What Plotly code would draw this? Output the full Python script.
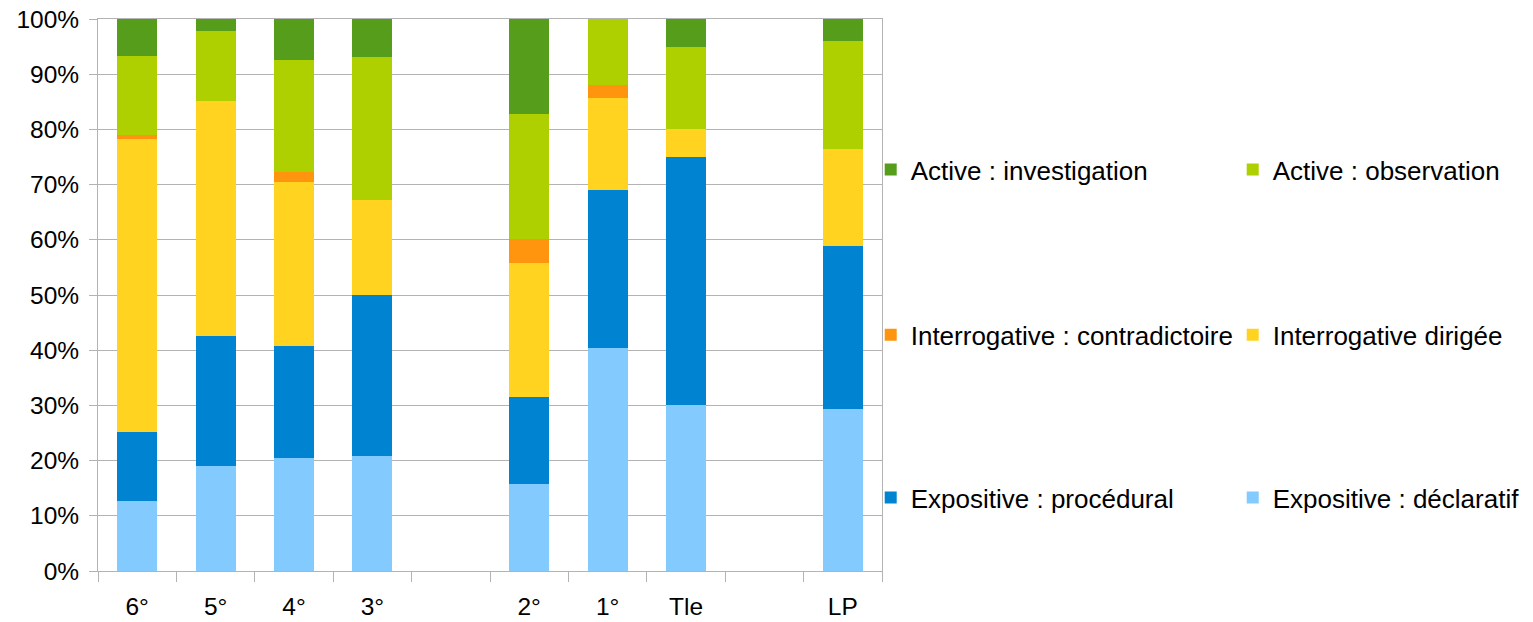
import plotly.graph_objects as go

categories = ["6°", "5°", "4°", "3°", " ", "2°", "1°", "Tle", "  ", "LP"]

expo_declaratif = [12.7, 19.0, 20.5, 20.8, None, 15.8, 40.4, 30.1, None, 29.3]
expo_procedural = [12.5, 23.6, 20.3, 29.2, None, 15.7, 28.6, 44.9, None, 29.6]
inter_dirigee = [53.1, 42.5, 29.7, 17.2, None, 24.3, 16.7, 5.1, None, 17.5]
inter_contradictoire = [0.7, 0.0, 1.8, 0.0, None, 4.3, 2.3, 0.0, None, 0.0]
active_observation = [14.3, 12.7, 20.3, 25.9, None, 22.7, 12.0, 14.8, None, 19.6]
active_investigation = [6.7, 2.2, 7.4, 6.9, None, 17.2, 0.0, 5.1, None, 4.0]

series = [
    ("Expositive : déclaratif", expo_declaratif, "#83caff", "legend3"),
    ("Expositive : procédural", expo_procedural, "#0084d1", "legend3"),
    ("Interrogative dirigée", inter_dirigee, "#ffd320", "legend2"),
    ("Interrogative : contradictoire", inter_contradictoire, "#ff950e", "legend2"),
    ("Active : observation", active_observation, "#aecf00", "legend"),
    ("Active : investigation", active_investigation, "#579d1c", "legend"),
]

fig = go.Figure()
for name, vals, color, lg in series:
    fig.add_trace(go.Bar(
        x=categories, y=vals, name=name, marker_color=color,
        marker_line_width=0, legend=lg,
    ))

TICKFONT = dict(family="Liberation Sans, Arial, sans-serif", size=24.5, color="#000000")
LEGFONT = dict(family="Liberation Sans, Arial, sans-serif", size=26, color="#000000")

def leg(y):
    return dict(
        orientation="h", x=0.9856, xanchor="left", y=y, yanchor="middle",
        entrywidth=317, traceorder="reversed", font=LEGFONT,
        bgcolor="rgba(0,0,0,0)", itemclick=False,
    )

fig.update_layout(
    width=1533, height=622,
    margin=dict(l=90, r=659, t=11, b=59, autoexpand=False),
    barmode="stack", bargap=0.49,
    paper_bgcolor="white", plot_bgcolor="white",
    font=TICKFONT,
    legend=leg(0.727),
    legend2=leg(0.428),
    legend3=leg(0.133),
    xaxis=dict(
        type="category", categoryorder="array", categoryarray=categories,
        tickson="boundaries", ticks="outside", ticklen=10, tickcolor="#b3b3b3",
        showline=True, linecolor="#b3b3b3", linewidth=1, mirror=True,
        showgrid=False, tickfont=TICKFONT, fixedrange=True, automargin=False,
        ticklabelstandoff=14, ticklabeloverflow="allow",
    ),
    yaxis=dict(
        range=[0, 100], dtick=10, ticksuffix="%",
        ticks="outside", ticklen=8, tickcolor="#b3b3b3",
        showline=True, linecolor="#b3b3b3", linewidth=1, mirror=True,
        showgrid=True, gridcolor="#b3b3b3", gridwidth=1,
        zeroline=False, tickfont=TICKFONT, fixedrange=True, automargin=False,
        ticklabelstandoff=5, ticklabeloverflow="allow",
    ),
)

fig.write_html("out.html")
